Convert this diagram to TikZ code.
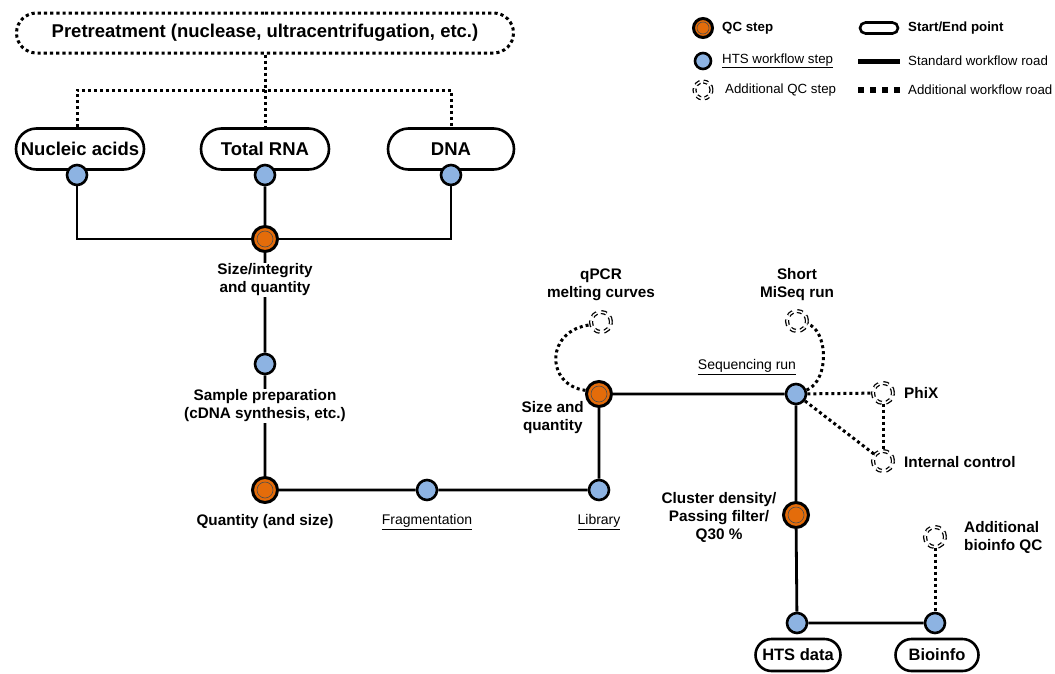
\documentclass[tikz,border=0pt]{standalone}
\usepackage{fontspec}
\setmainfont{Liberation Sans}
\usetikzlibrary{shapes.misc,backgrounds}
\definecolor{qcorange}{HTML}{E46C0A}
\definecolor{htsblue}{HTML}{8DB3E2}
\tikzset{
 se/.style={rounded rectangle, draw, line width=2.6pt, fill=white, minimum height=41pt, inner xsep=3pt, font=\fontsize{18.5}{21}\selectfont\bfseries},
 qc/.style={circle, draw, line width=3pt, fill=qcorange, minimum size=25pt, inner sep=0pt, path picture={\draw[line width=0.6pt, black!70] (path picture bounding box.center) circle (8pt);}},
 hts/.style={circle, draw, line width=2.6pt, fill=htsblue, minimum size=20pt, inner sep=0pt},
 aqc/.style={circle, draw, fill=white, line width=1.3pt, double=white, double distance=1.5pt, dash pattern=on 5.5pt off 4.5pt, minimum size=20pt, inner sep=0pt},
 road/.style={line width=2.8pt},
 droad/.style={line width=3pt, dash pattern=on 3pt off 3pt},
 lbl/.style={font=\fontsize{15.3}{18}\selectfont\bfseries, align=center, fill=white, inner sep=1pt},
 ulbl/.style={font=\fontsize{14}{17}\selectfont, inner sep=1pt},
 leg/.style={font=\fontsize{13.3}{15}\selectfont, anchor=west, inner sep=0pt},
}
\begin{document}
\begin{tikzpicture}[x=1pt,y=-1pt]
\useasboundingbox (0,0) rectangle (1055,673);
% start nodes
\node[se, line width=3pt, dash pattern=on 3.2pt off 3pt, minimum width=503pt, minimum height=40pt] (pre) at (265,33) {Pretreatment (nuclease, ultracentrifugation, etc.)};
\node[se, minimum width=134pt] (na) at (80,149) {Nucleic acids};
\node[se, minimum width=134pt] (trna) at (265,149) {Total RNA};
\node[se, minimum width=132pt] (dna) at (451,149) {DNA};
\node[se, minimum width=91pt, minimum height=32pt, font=\fontsize{16.5}{19}\selectfont\bfseries] (htsd) at (798,655) {HTS data};
\node[se, minimum width=89pt, minimum height=32pt, font=\fontsize{16.5}{19}\selectfont\bfseries] (bioi) at (937,655) {Bioinfo};
\coordinate (junc) at (265,90);
% steps
\node[hts] (b1) at (77,175) {};
\node[hts] (b2) at (265,175) {};
\node[hts] (b3) at (451,175) {};
\node[qc] (qc1) at (265,239) {};
\node[lbl] (l1) at (265,280) {Size/integrity\\and quantity};
\node[hts] (b4) at (265,364) {};
\node[lbl] (l2) at (265,406) {Sample preparation\\(cDNA synthesis, etc.)};
\node[qc] (qc2) at (265,490) {};
\node[lbl] (l3) at (265,522) {Quantity (and size)};
\node[hts] (b5) at (427,490) {};
\node[ulbl] (l4) at (427,522) {\underline{Fragmentation}};
\node[hts] (b6) at (599,490) {};
\node[ulbl] (l5) at (599,522) {\underline{Library}};
\node[qc] (qc3) at (599,394) {};
\node[lbl, anchor=east] (l6) at (585,418) {Size and\\quantity};
\node[aqc] (aq1) at (601,322) {};
\node[lbl] (l7) at (601,285) {qPCR\\melting curves};
\node[hts] (bseq) at (796,394) {};
\node[ulbl] (l8) at (747,367) {\underline{Sequencing run}};
\node[aqc] (aq2) at (797,321) {};
\node[lbl] (l9) at (797,285) {Short\\MiSeq run};
\node[aqc] (phix) at (883,393) {};
\node[lbl, anchor=west] (l10) at (903,393) {PhiX};
\node[aqc] (ic) at (883,461) {};
\node[lbl, anchor=west] (l11) at (903,462) {Internal control};
\node[qc] (qc4) at (796,515) {};
\node[lbl] (l12) at (719,517) {Cluster density/\\Passing filter/\\Q30 \%};
\node[hts] (b7) at (797,623) {};
\node[hts] (b8) at (935,623) {};
\node[aqc] (aq3) at (935,537) {};
\node[lbl, anchor=west, align=left] (l13) at (963,537) {Additional\\bioinfo QC};
% legend
\node[qc, minimum size=19pt, path picture={\draw[line width=0.6pt, black!70] (path picture bounding box.center) circle (6pt);}] (lg1) at (703,28) {};
\node[leg, font=\fontsize{13.3}{15}\selectfont\bfseries] (lt1) at (722,28) {QC step};
\node[hts, minimum size=16pt] (lg2) at (703,61) {};
\node[leg] (lt2) at (722,61) {\underline{HTS workflow step}};
\node[aqc, minimum size=17pt, dash pattern=on 4.5pt off 3.8pt] (lg3) at (703,90) {};
\node[leg] (lt3) at (725,90) {Additional QC step};
\node[rounded rectangle, draw, line width=2.6pt, minimum width=38pt, minimum height=11pt, inner sep=0pt] (lg4) at (879,28) {};
\node[leg, font=\fontsize{13.3}{15}\selectfont\bfseries] (lt4) at (908,28) {Start/End point};
\coordinate (ls1) at (858,61); \coordinate (ls2) at (900,61);
\draw[line width=5pt] (ls1) -- (ls2);
\node[leg] (lt5) at (908,61) {Standard workflow road};
\coordinate (ld1) at (858,90); \coordinate (ld2) at (902,90);
\draw[line width=5.5pt, dash pattern=on 6pt off 6pt] (ld1) -- (ld2);
\node[leg] (lt6) at (908,90) {Additional workflow road};
% connectors
\begin{pgfonlayer}{background}
\draw[droad] (pre.south) -- (junc);
\draw[droad] (na.north -| b1) |- (junc) -| (dna.north -| b3);
\draw[droad] (junc) -- (trna.north);
\draw[road] (b1) |- (qc1) -| (b3);
\draw[road] (b2) -- (qc1) -- (b4) -- (qc2) -- (b5) -- (b6) -- (qc3) -- (bseq) -- (qc4) -- (b7) -- (b8);
\draw[droad] (bseq) -- (phix);
\draw[droad] (bseq) -- (ic);
\draw[droad] (phix) -- (ic);
\draw[droad] (aq3) -- (b8);
\draw[droad] (qc3.165) .. controls (545,385) and (545,330) .. (aq1.195);
\draw[droad] (bseq.20) .. controls (830,380) and (828,330) .. (aq2.-15);
\end{pgfonlayer}
\end{tikzpicture}
\end{document}
